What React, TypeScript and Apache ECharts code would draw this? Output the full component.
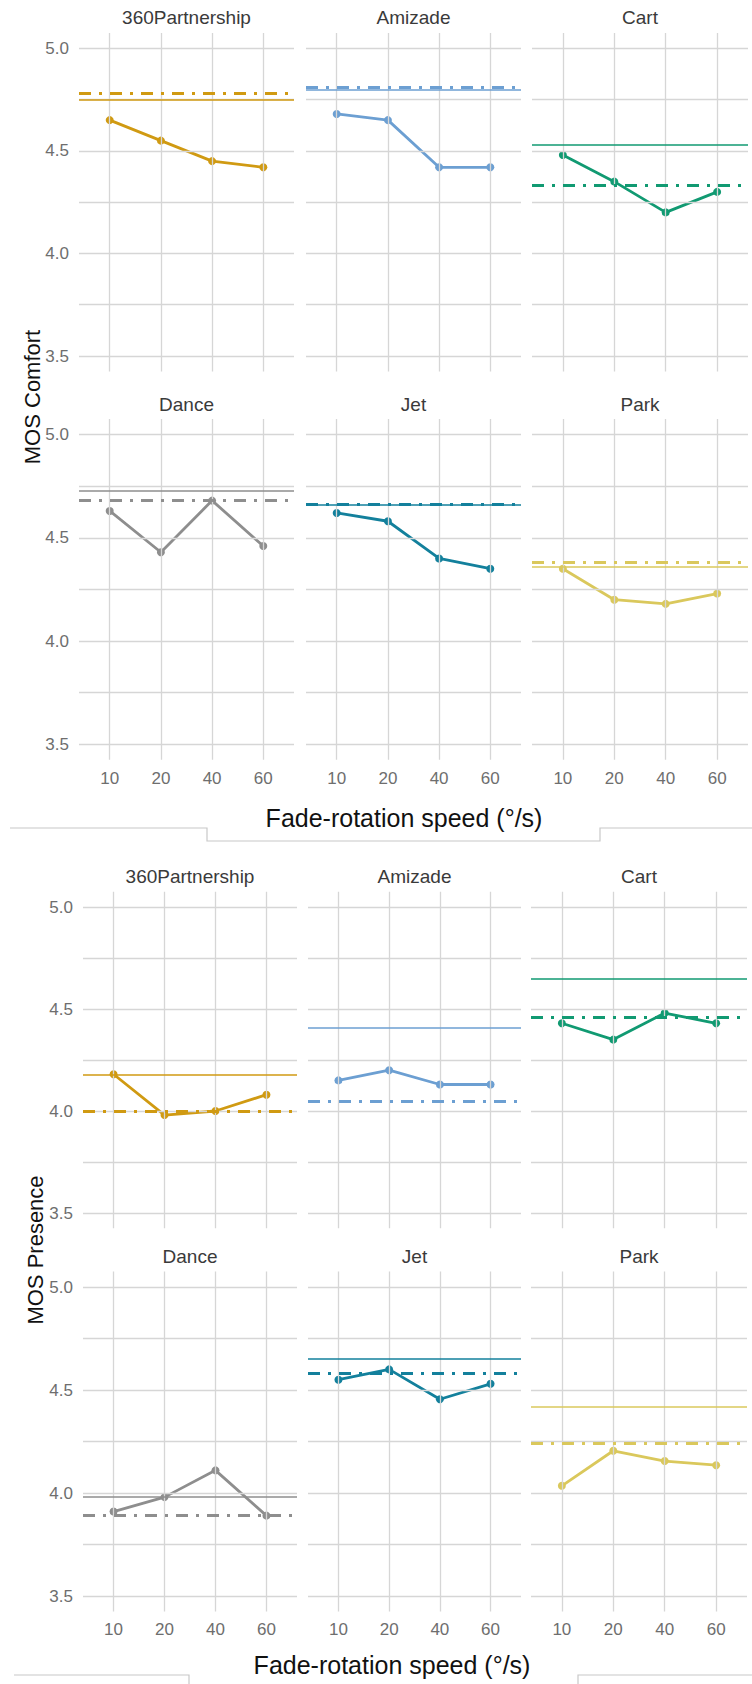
import React, { useEffect, useRef } from "react";
import * as echarts from "echarts";

// ---------- data ----------
const speeds = ["10", "20", "40", "60"];
const scenes = ["360Partnership", "Amizade", "Cart", "Dance", "Jet", "Park"];
const sceneColors = ["#D09A12", "#6C9FD2", "#119A72", "#8E8E8E", "#13809C", "#DAC85C"];

// MOS Comfort per scene, at speeds 10, 20, 40, 60
const comfortMeans = [
  [4.65, 4.55, 4.45, 4.42],
  [4.68, 4.65, 4.42, 4.42],
  [4.48, 4.35, 4.2, 4.3],
  [4.63, 4.43, 4.68, 4.46],
  [4.62, 4.58, 4.4, 4.35],
  [4.35, 4.2, 4.18, 4.23],
];
const comfortSolid = [4.75, 4.805, 4.53, 4.73, 4.66, 4.355];
const comfortDashDot = [4.78, 4.81, 4.33, 4.68, 4.655, 4.385];

// MOS Presence per scene
const presenceMeans = [
  [4.18, 3.98, 4.0, 4.08],
  [4.15, 4.2, 4.13, 4.13],
  [4.43, 4.35, 4.48, 4.43],
  [3.91, 3.98, 4.11, 3.89],
  [4.55, 4.6, 4.455, 4.53],
  [4.035, 4.205, 4.155, 4.135],
];
const presenceSolid = [4.18, 4.405, 4.65, 3.985, 4.65, 4.425];
const presenceDashDot = [4.005, 4.055, 4.46, 3.89, 4.585, 4.235];

const yTicks = [3.5, 4.0, 4.5, 5.0];
const yMinorTicks = [3.75, 4.25, 4.75];
const yTitles = ["MOS Comfort", "MOS Presence"];
const xTitle = "Fade-rotation speed (°/s)";

// ---------- layout ----------
const FONT = "'Liberation Sans', Arial, sans-serif";
const panelXs = [
  [
    [79, 294],
    [306, 521],
    [532, 748],
  ],
  [
    [83, 297],
    [308, 521],
    [531, 747],
  ],
];
// pixel y of value 5.0 and 3.5 for each of the 4 rows
const rowYs = [
  [48.3, 356],
  [434.5, 744.3],
  [907, 1213],
  [1287, 1596],
];
const Y_MIN = 3.425;
const Y_MAX = 5.075;

function buildOption() {
  const grid: any[] = [];
  const xAxis: any[] = [];
  const yAxis: any[] = [];
  const series: any[] = [];
  const graphic: any[] = [];

  const measures = [
    { means: comfortMeans, solid: comfortSolid, dash: comfortDashDot },
    { means: presenceMeans, solid: presenceSolid, dash: presenceDashDot },
  ];

  let gi = 0;
  for (let c = 0; c < 2; c++) {
    for (let r = 0; r < 2; r++) {
      const [y5, y35] = rowYs[c * 2 + r];
      const ppu = (y35 - y5) / 1.5;
      const top = y5 - (Y_MAX - 5.0) * ppu;
      const bottom = y35 + (3.5 - Y_MIN) * ppu;
      for (let k = 0; k < 3; k++) {
        const s = r * 3 + k;
        const [x0, x1] = panelXs[c][k];
        grid.push({ left: x0, top, width: x1 - x0, height: bottom - top, containLabel: false });
        xAxis.push({
          type: "value",
          gridIndex: gi,
          min: 0.4,
          max: 4.6,
          axisLine: { show: false },
          axisTick: { show: false },
          splitLine: { show: false },
          axisLabel: {
            show: r === 1,
            customValues: [1, 2, 3, 4],
            formatter: (v: number) => speeds[Math.round(v) - 1] ?? "",
            color: "#6e6e6e",
            fontSize: 17,
            fontFamily: FONT,
            margin: 10,
          },
        });
        yAxis.push({
          type: "value",
          gridIndex: gi,
          min: Y_MIN,
          max: Y_MAX,
          axisLine: { show: false },
          axisTick: { show: false },
          splitLine: { show: false },
          axisLabel: {
            show: k === 0,
            customValues: yTicks,
            formatter: (v: number) => v.toFixed(1),
            color: "#6e6e6e",
            fontSize: 17,
            fontFamily: FONT,
            margin: 10,
          },
        });
        // grid lines
        series.push({
          type: "line",
          xAxisIndex: gi,
          yAxisIndex: gi,
          data: [],
          silent: true,
          z: 1,
          markLine: {
            silent: true,
            symbol: ["none", "none"],
            label: { show: false },
            lineStyle: { color: "#d6d6d6", width: 1.3, type: "solid" },
            data: [
              ...[1, 2, 3, 4].map((x) => ({ xAxis: x })),
              ...[...yTicks, ...yMinorTicks].map((y) => ({ yAxis: y })),
            ],
          },
        });
        const m = measures[c];
        const col = sceneColors[s];
        series.push({
          type: "line",
          name: scenes[s],
          xAxisIndex: gi,
          yAxisIndex: gi,
          z: 3,
          data: m.means[s].map((v, i) => [i + 1, v]),
          symbol: "circle",
          symbolSize: 8,
          itemStyle: { color: col },
          lineStyle: { color: col, width: 2.8 },
          markLine: {
            silent: true,
            symbol: ["none", "none"],
            label: { show: false },
            data: [
              { yAxis: m.solid[s], lineStyle: { color: col, width: 1.6, type: "solid" } },
              { yAxis: m.dash[s], lineStyle: { color: col, width: 2.8, type: [12, 8, 3, 8] } },
            ],
          },
        });
        // strip title
        graphic.push({
          type: "text",
          x: (x0 + x1) / 2,
          y: top - 15,
          style: {
            text: scenes[s],
            fill: "#3a3a3a",
            font: `19px ${FONT}`,
            textAlign: "center",
            textVerticalAlign: "middle",
          },
        });
        gi++;
      }
    }
  }

  // axis titles
  const xTitlePos = [
    [404, 818],
    [392, 1665],
  ];
  const yTitlePos = [
    [32, 397],
    [35, 1250],
  ];
  for (let c = 0; c < 2; c++) {
    graphic.push({
      type: "text",
      x: xTitlePos[c][0],
      y: xTitlePos[c][1],
      style: {
        text: xTitle,
        fill: "#111",
        font: `25px ${FONT}`,
        textAlign: "center",
        textVerticalAlign: "middle",
      },
    });
    graphic.push({
      type: "text",
      x: yTitlePos[c][0],
      y: yTitlePos[c][1],
      rotation: Math.PI / 2,
      style: {
        text: yTitles[c],
        fill: "#111",
        font: `22px ${FONT}`,
        textAlign: "center",
        textVerticalAlign: "middle",
      },
    });
  }

  // light frame lines of the original slide
  const frame = { stroke: "#c8c8c8", lineWidth: 1.2, fill: "none" };
  graphic.push({
    type: "polyline",
    shape: { points: [[10, 828], [207, 828], [207, 841], [600, 841], [600, 828], [752, 828]] },
    style: frame,
  });
  graphic.push({
    type: "polyline",
    shape: { points: [[14, 1675], [189, 1675], [189, 1684]] },
    style: frame,
  });
  graphic.push({
    type: "polyline",
    shape: { points: [[578, 1684], [578, 1675], [752, 1675]] },
    style: frame,
  });

  return {
    animation: false,
    backgroundColor: "#ffffff",
    textStyle: { fontFamily: FONT },
    grid,
    xAxis,
    yAxis,
    series,
    graphic,
  };
}

export default function App() {
  const ref = useRef<HTMLDivElement>(null);
  useEffect(() => {
    if (!ref.current) return;
    const chart = echarts.init(ref.current, null, { renderer: "svg" });
    chart.setOption(buildOption() as any);
    return () => chart.dispose();
  }, []);
  return (
    <div
      ref={ref}
      style={{ position: "absolute", left: 0, top: 0, width: 752, height: 1684, background: "#fff" }}
    />
  );
}
